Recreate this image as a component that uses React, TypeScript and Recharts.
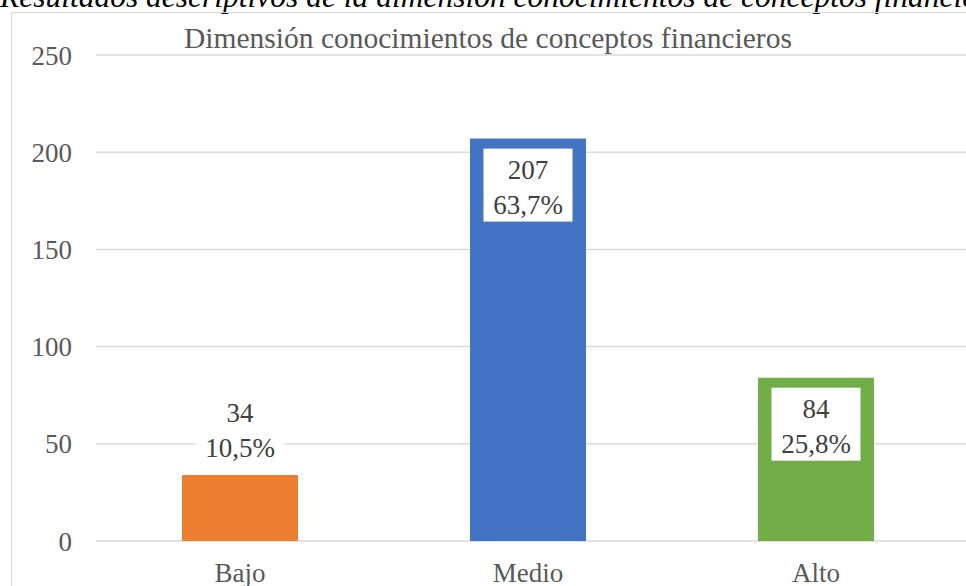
import React from 'react';
import { BarChart, Bar, XAxis, YAxis, CartesianGrid, Cell, LabelList } from 'recharts';

const categories = ['Bajo', 'Medio', 'Alto'];
const counts = [34, 207, 84];
const percents = ['10,5%', '63,7%', '25,8%'];
const yTicks = [0, 50, 100, 150, 200, 250];
const barColors = ['#ED7D31', '#4472C4', '#70AD47'];

const chartData = categories.map((name, i) => ({
  name,
  value: counts[i],
  pct: percents[i],
}));

const FONT = '"Liberation Serif", "Times New Roman", serif';

const BoxLabel = (props: any) => {
  const { x, y, width, height, index } = props;
  const boxW = 89;
  const boxH = 73;
  const cx = x + width / 2;
  // box goes inside the bar when it fits, otherwise above it
  const top = height > boxH + 20 ? y + 10 : y - 10 - boxH;
  return (
    <g>
      <rect x={cx - boxW / 2} y={top} width={boxW} height={boxH} fill="#ffffff" />
      <text x={cx} y={top + 21} textAnchor="middle" dominantBaseline="central" fontSize={27} fontFamily={FONT} fill="#404040">
        {counts[index]}
      </text>
      <text x={cx} y={top + 56} textAnchor="middle" dominantBaseline="central" fontSize={27} fontFamily={FONT} fill="#404040">
        {percents[index]}
      </text>
    </g>
  );
};

export default function App() {
  return (
    <div style={{ position: 'fixed', left: 0, top: 0, width: 966, height: 586, overflow: 'hidden', background: '#fff' }}>
      <div
        style={{
          position: 'absolute',
          left: 0,
          top: -19,
          whiteSpace: 'nowrap',
          fontFamily: FONT,
          fontStyle: 'italic',
          fontSize: 31.5,
          lineHeight: '32px',
          color: '#000',
        }}
      >
        Resultados descriptivos de la dimensión conocimientos de conceptos financieros
      </div>
      <div style={{ position: 'absolute', left: 11, top: 12, width: 1000, height: 640, border: '1px solid #d9d9d9' }} />
      <div
        style={{
          position: 'absolute',
          left: 96,
          width: 784,
          top: 22,
          textAlign: 'center',
          fontFamily: FONT,
          fontSize: 29.5,
          color: '#595959',
          whiteSpace: 'nowrap',
        }}
      >
        Dimensión conocimientos de conceptos financieros
      </div>
      <div style={{ position: 'absolute', left: 0, top: 0 }}>
        <BarChart width={966} height={586} data={chartData} margin={{ top: 55, right: 0, bottom: 0, left: 0 }}>
          <CartesianGrid vertical={false} stroke="#d9d9d9" strokeWidth={1.5} />
          <XAxis
            dataKey="name"
            height={45}
            axisLine={false}
            tickLine={false}
            tickSize={0}
            tickMargin={22}
            padding={{ left: 0, right: 6 }}
            tick={{ fontSize: 27, fontFamily: FONT, fill: '#595959' }}
          />
          <YAxis
            width={96}
            domain={[0, 250]}
            ticks={yTicks}
            axisLine={false}
            tickLine={false}
            tickSize={0}
            tickMargin={24}
            tick={{ fontSize: 27, fontFamily: FONT, fill: '#595959' }}
          />
          <Bar dataKey="value" barSize={116} isAnimationActive={false}>
            {chartData.map((d, i) => (
              <Cell key={d.name} fill={barColors[i]} />
            ))}
            <LabelList dataKey="value" content={<BoxLabel />} />
          </Bar>
        </BarChart>
      </div>
    </div>
  );
}
